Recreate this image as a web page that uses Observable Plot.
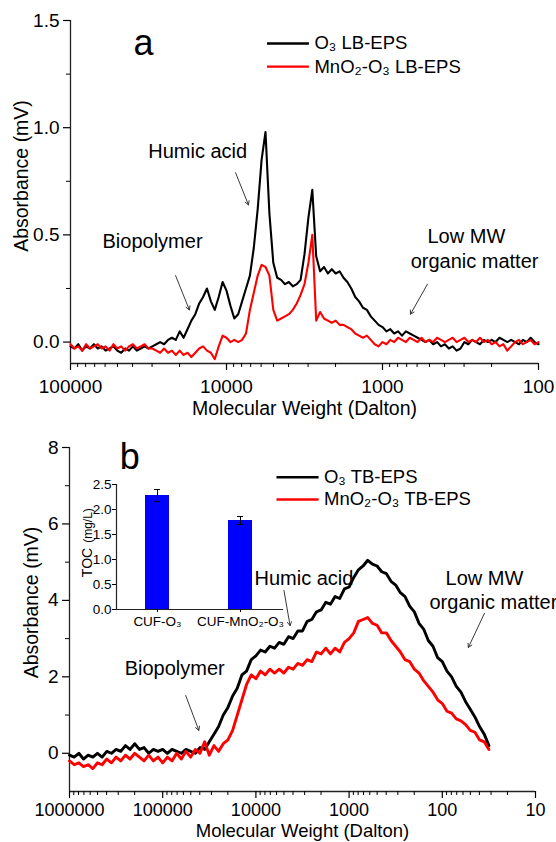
<!DOCTYPE html>
<html><head><meta charset="utf-8">
<script src="https://cdn.jsdelivr.net/npm/d3@7"></script>
<script src="https://cdn.jsdelivr.net/npm/@observablehq/plot@0.6"></script>
<style>
body{margin:0;background:#fff}
#wrap{position:relative;width:556px;height:842px;background:#fff;overflow:hidden}
#wrap svg{position:absolute;left:0}
</style></head><body><div id="wrap"></div>
<script>
// ---------- Panel a : LB-EPS ----------
const mwA = [100000, 94410, 89130, 84140, 79430, 74990, 70790, 66830, 63100, 59570,
  56230, 53090, 50120, 47320, 44670, 42170, 39810, 37580, 35480, 33500,
  31620, 29850, 28180, 26610, 25120, 23710, 22390, 21130, 19950, 18840,
  17780, 16790, 15850, 14960, 14130, 13340, 12590, 11890, 11220, 10590,
  10000, 9441, 8913, 8414, 7943, 7499, 7079, 6683, 6310, 5957,
  5623, 5309, 5012, 4732, 4467, 4217, 3981, 3758, 3548, 3350,
  3162, 2985, 2818, 2661, 2512, 2371, 2239, 2113, 1995, 1884,
  1778, 1679, 1585, 1496, 1413, 1334, 1259, 1189, 1122, 1059,
  1000, 944.1, 891.3, 841.4, 794.3, 749.9, 707.9, 668.3, 631.0, 595.7,
  562.3, 530.9, 501.2, 473.2, 446.7, 421.7, 398.1, 375.8, 354.8, 335.0,
  316.2, 298.5, 281.8, 266.1, 251.2, 237.1, 223.9, 211.3, 199.5, 188.4,
  177.8, 167.9, 158.5, 149.6, 141.3, 133.4, 125.9, 118.9, 112.2, 105.9, 100];
const lbO3 = [-0.02, -0.03, -0.01, -0.04, -0.02, -0.03, -0.01, -0.03, -0.02, -0.04,
  -0.03, -0.02, -0.04, -0.05, -0.03, -0.04, -0.02, -0.04, -0.03, -0.02,
  -0.03, -0.02, -0.01, 0.00, -0.01, 0.01, 0.02, 0.01, 0.05, 0.02,
  0.06, 0.10, 0.13, 0.18, 0.21, 0.25, 0.19, 0.15, 0.21, 0.28,
  0.24, 0.17, 0.11, 0.13, 0.19, 0.25, 0.31, 0.44, 0.62, 0.85,
  0.98, 0.60, 0.37, 0.30, 0.29, 0.27, 0.28, 0.26, 0.27, 0.29,
  0.41, 0.58, 0.71, 0.40, 0.33, 0.35, 0.32, 0.34, 0.32, 0.33,
  0.30, 0.28, 0.25, 0.21, 0.19, 0.16, 0.15, 0.12, 0.10, 0.08,
  0.07, 0.05, 0.06, 0.04, 0.05, 0.03, 0.05, 0.04, 0.03, 0.02,
  0.01, 0.00, 0.01, -0.01, 0.00, -0.02, -0.01, -0.03, -0.02, -0.04,
  -0.03, 0.00, -0.01, 0.01, 0.00, -0.01, 0.01, 0.00, 0.01, 0.00,
  0.02, 0.01, 0.00, 0.01, 0.00, -0.01, 0.01, 0.00, 0.02, 0.00, -0.01];
const lbMnO2 = [-0.01, -0.03, -0.02, -0.04, -0.01, -0.03, -0.02, -0.01, -0.03, -0.02,
  -0.04, -0.01, -0.03, -0.02, -0.04, -0.02, -0.01, -0.03, -0.02, -0.01,
  -0.03, -0.03, -0.04, -0.05, -0.03, -0.05, -0.04, -0.06, -0.04, -0.06,
  -0.05, -0.07, -0.05, -0.03, -0.02, -0.04, -0.05, -0.08, -0.02, 0.03,
  0.02, 0.00, 0.01, 0.00, 0.01, 0.04, 0.15, 0.23, 0.31, 0.36,
  0.35, 0.31, 0.15, 0.10, 0.11, 0.12, 0.13, 0.15, 0.18, 0.22,
  0.27, 0.37, 0.50, 0.10, 0.14, 0.11, 0.10, 0.09, 0.10, 0.08,
  0.08, 0.07, 0.06, 0.04, 0.03, 0.02, 0.03, 0.01, -0.01, -0.02,
  0.00, -0.01, 0.01, 0.00, 0.02, 0.01, 0.00, 0.02, 0.01, 0.00,
  0.02, 0.00, 0.01, 0.00, 0.02, 0.01, 0.00, 0.01, 0.02, 0.00,
  0.01, 0.02, 0.00, 0.01, 0.00, 0.02, 0.00, 0.01, -0.01, 0.00,
  -0.02, -0.01, -0.04, -0.02, 0.00, 0.01, -0.01, 0.00, 0.01, -0.01, 0.00];

// ---------- Panel b : TB-EPS ----------
const mwB = [1000000, 891300, 794300, 707900, 631000, 562300, 501200, 446700, 398100, 354800,
  316200, 281800, 251200, 223900, 199500, 177800, 158500, 141300, 125900, 112200,
  100000, 89130, 79430, 70790, 63100, 56230, 50120, 44670, 39810, 35480,
  31620, 28180, 25120, 22390, 19950, 17780, 15850, 14130, 12590, 11220,
  10000, 8913, 7943, 7079, 6310, 5623, 5012, 4467, 3981, 3548,
  3162, 2818, 2512, 2239, 1995, 1778, 1585, 1413, 1259, 1122,
  1000, 891.3, 794.3, 707.9, 631.0, 562.3, 501.2, 446.7, 398.1, 354.8,
  316.2, 281.8, 251.2, 223.9, 199.5, 177.8, 158.5, 141.3, 125.9, 112.2,
  100, 89.13, 79.43, 70.79, 63.10, 56.23, 50.12, 44.67, 39.81, 35.48, 31.62];
const tbO3 = [-0.05, -0.1, 0.0, -0.15, -0.05, -0.1, 0.0, -0.1, 0.05, 0.0,
  0.1, 0.05, 0.2, 0.1, 0.25, 0.1, 0.15, 0.0, 0.1, 0.05,
  0.1, 0.0, 0.1, 0.05, 0.0, 0.1, 0.05, 0.0, 0.15, 0.1,
  0.3, 0.5, 0.7, 1.0, 1.2, 1.5, 1.7, 2.05, 2.15, 2.45,
  2.55, 2.7, 2.65, 2.8, 2.75, 2.9, 2.85, 3.05, 3.0, 3.2,
  3.2, 3.45, 3.5, 3.7, 3.75, 3.95, 3.9, 4.1, 4.05, 4.3,
  4.35, 4.6, 4.8, 4.9, 5.05, 4.95, 4.9, 4.75, 4.7, 4.5,
  4.4, 4.2, 4.1, 3.85, 3.7, 3.4, 3.25, 2.95, 2.8, 2.5,
  2.4, 2.15, 2.0, 1.75, 1.6, 1.35, 1.15, 0.95, 0.7, 0.5, 0.2];
const tbMnO2 = [-0.2, -0.3, -0.25, -0.35, -0.3, -0.4, -0.25, -0.3, -0.15, -0.25,
  -0.1, -0.2, -0.05, -0.15, 0.0, -0.1, -0.2, -0.05, -0.2, -0.1,
  -0.25, -0.1, -0.2, 0.0, -0.15, 0.05, -0.1, 0.1, 0.0, 0.3,
  -0.05, 0.2, 0.05, 0.25, 0.35, 0.6, 1.0, 1.4, 1.8, 2.05,
  1.95, 2.15, 2.05, 2.2, 2.1, 2.2, 2.1, 2.25, 2.2, 2.35,
  2.3, 2.45, 2.4, 2.65, 2.6, 2.75, 2.6, 2.75, 2.65, 2.9,
  3.0, 3.15, 3.45, 3.5, 3.55, 3.4, 3.35, 3.15, 3.15, 2.95,
  2.8, 2.65, 2.45, 2.4, 2.2, 2.1, 1.9, 1.75, 1.6, 1.4,
  1.3, 1.1, 1.05, 0.9, 0.85, 0.75, 0.6, 0.55, 0.35, 0.3, 0.1];

// ---------- Inset : TOC ----------
const tocCats = ["CUF-O₃", "CUF-MnO₂-O₃"];
const tocValues = [2.28, 1.78];
const tocErrors = [0.12, 0.08];

// ---------- ticks & labels ----------
const xTicksA = [100000, 10000, 1000, 100];
const yTicksA = [0, 0.5, 1.0, 1.5];
const yMinorA = [0.25, 0.75, 1.25];
const xTicksB = [1000000, 100000, 10000, 1000, 100, 10];
const yTicksB = [0, 2, 4, 6, 8];
const yMinorB = [1, 3, 5, 7];
const tocTicks = [0, 0.5, 1.0, 1.5, 2.0, 2.5];
const legendA = ["O₃ LB-EPS", "MnO₂-O₃ LB-EPS"];
const legendB = ["O₃ TB-EPS", "MnO₂-O₃ TB-EPS"];
const seriesColors = ["#000000", "#ff0000"];
const xTitle = "Molecular Weight (Dalton)";
const yTitle = "Absorbance (mV)";

// annotations (data coordinates)
const notesA = [
  {mw: 15300, v: 0.89, t: "Humic acid"},
  {mw: 29800, v: 0.47, t: "Biopolymer"},
  {mw: 290, v: 0.49, t: "Low MW"},
  {mw: 257, v: 0.376, t: "organic matter"}];
const arrowsA = [
  {x1: 8750, y1: 0.79, x2: 7230, y2: 0.64},
  {x1: 21200, y1: 0.31, x2: 17300, y2: 0.15},
  {x1: 515, y1: 0.27, x2: 662, y2: 0.13}];
const notesB = [
  {mw: 3050, v: 4.57, t: "Humic acid"},
  {mw: 74300, v: 2.22, t: "Biopolymer"},
  {mw: 35.3, v: 4.57, t: "Low MW"},
  {mw: 28.3, v: 3.95, t: "organic matter"}];
const arrowsB = [
  {x1: 5000, y1: 4.26, x2: 4300, y2: 3.34},
  {x1: 56600, y1: 1.51, x2: 41000, y2: 0.60},
  {x1: 35.3, y1: 3.66, x2: 52.5, y2: 2.77}];

const FONT = "'Liberation Sans', Arial, Helvetica, sans-serif";
const minor = (lows) => lows.flatMap(L => [2,3,4,5,6,7,8,9].map(m => m * L));
const minorsA = minor([10000, 1000, 100]);
const minorsB = minor([100000, 10000, 1000, 100, 10]);

function panel({mw, s1, s2, xDom, yDom, xTicks, xMinor, yTicks, yMinor, yFmt, height, margins, legend, legPos, letter, notes, arrows, sw, yTitleDx, yTitleDy, xTitleDy, xTickFont, xTickPad, xTitleFont}) {
  const rows1 = mw.map((m, i) => ({mw: m, v: s1[i]}));
  const rows2 = mw.map((m, i) => ({mw: m, v: s2[i]}));
  const leg = legend.map((t, i) => ({t, c: seriesColors[i], v: legPos.v[i]}));
  return Plot.plot({
    width: 556, height,
    ...margins,
    style: {fontFamily: FONT, fontSize: "19px", background: "transparent", overflow: "visible", color: "#000"},
    x: {type: "log", domain: xDom},
    y: {domain: yDom},
    marks: [
      Plot.ruleY([yDom[0]], {stroke: "#222", strokeWidth: 1.3}),
      Plot.ruleX([xDom[0]], {stroke: "#222", strokeWidth: 1.3}),
      Plot.axisX({ticks: xTicks, tickSize: 7, tickPadding: xTickPad, tickFormat: d => String(d), label: null, fontSize: xTickFont, strokeWidth: 1.2}),
      Plot.axisX({ticks: xMinor, tickSize: 4, tickFormat: () => "", label: null, strokeWidth: 1}),
      Plot.axisY({ticks: yTicks, tickSize: 7, tickPadding: 4, tickFormat: yFmt, label: null, fontSize: 19, strokeWidth: 1.2}),
      Plot.axisY({ticks: yMinor, tickSize: 4, tickFormat: () => "", label: null, strokeWidth: 1}),
      Plot.line(rows1, {x: "mw", y: "v", stroke: seriesColors[0], strokeWidth: sw}),
      Plot.line(rows2, {x: "mw", y: "v", stroke: seriesColors[1], strokeWidth: sw}),
      Plot.ruleY(leg, {y: "v", x1: legPos.x1, x2: legPos.x2, stroke: "c", strokeWidth: 2.4}),
      Plot.text(leg, {y: "v", x: legPos.tx, text: "t", textAnchor: "start", fontSize: 18.5}),
      Plot.text([letter.t], {x: letter.mw, y: letter.v, fontSize: 36}),
      Plot.text(notes, {x: "mw", y: "v", text: "t", fontSize: 20}),
      Plot.arrow(arrows, {x1: "x1", y1: "y1", x2: "x2", y2: "y2", stroke: "#222", strokeWidth: 0.9, headLength: 7}),
      Plot.text([xTitle], {frameAnchor: "bottom", lineAnchor: "middle", textAnchor: "middle", dy: xTitleDy, fontSize: xTitleFont}),
      Plot.text([yTitle], {frameAnchor: "left", lineAnchor: "middle", textAnchor: "middle", dx: yTitleDx, dy: yTitleDy, rotate: -90, fontSize: 19.5})
    ]
  });
}

const plotA = panel({
  mw: mwA, s1: lbO3, s2: lbMnO2, xDom: [100000, 100], yDom: [-0.1, 1.5],
  xTicks: xTicksA, xMinor: minorsA, yTicks: yTicksA, yMinor: yMinorA, yFmt: d3.format(".1f"),
  height: 420, margins: {marginLeft: 70, marginRight: 18, marginTop: 20, marginBottom: 57},
  legend: legendA, legPos: {x1: 5460, x2: 2940, tx: 2730, v: [1.393, 1.285]},
  letter: {t: "a", mw: 34000, v: 1.395}, notes: notesA, arrows: arrowsA, sw: 2.1,
  yTitleDx: -49, yTitleDy: -16, xTitleDy: 45, xTickFont: 19, xTickPad: 9, xTitleFont: 19.5
});
const plotB = panel({
  mw: mwB, s1: tbO3, s2: tbMnO2, xDom: [1000000, 10], yDom: [-1, 8],
  xTicks: xTicksB, xMinor: minorsB, yTicks: yTicksB, yMinor: yMinorB, yFmt: d => String(d),
  height: 422, margins: {marginLeft: 69, marginRight: 21, marginTop: 27, marginBottom: 51},
  legend: legendB, legPos: {x1: 5940, x2: 2100, tx: 1860, v: [7.22, 6.64]},
  letter: {t: "b", mw: 226000, v: 7.75}, notes: notesB, arrows: arrowsB, sw: 2.9,
  yTitleDx: -38, yTitleDy: -17, xTitleDy: 40, xTickFont: 18, xTickPad: 5, xTitleFont: 18.5
});

const tocData = tocCats.map((c, i) => ({c, v: tocValues[i], e: tocErrors[i]}));
const inset = Plot.plot({
  width: 300, height: 200,
  marginLeft: 116, marginRight: 18, marginTop: 44, marginBottom: 31,
  style: {fontFamily: FONT, fontSize: "13px", background: "transparent", overflow: "visible", color: "#000"},
  x: {type: "band", domain: tocCats, paddingInner: 0.71, paddingOuter: 0.355},
  y: {domain: [0, 2.5]},
  marks: [
    Plot.barY(tocData, {x: "c", y: "v", fill: "#0000ff"}),
    Plot.ruleX(tocData, {x: "c", y1: d => d.v - d.e, y2: d => d.v + d.e, stroke: "#000", strokeWidth: 1}),
    Plot.tickY(tocData, {x: "c", y: d => d.v + d.e, insetLeft: 9, insetRight: 9, stroke: "#000", strokeWidth: 1}),
    Plot.tickY(tocData, {x: "c", y: d => d.v - d.e, insetLeft: 9, insetRight: 9, stroke: "#000", strokeWidth: 1}),
    Plot.frame({anchor: "left", stroke: "#222", strokeWidth: 1.2}),
    Plot.frame({anchor: "bottom", stroke: "#222", strokeWidth: 1.2}),
    Plot.axisY({ticks: tocTicks, tickSize: 4, tickPadding: 1, tickFormat: d3.format(".1f"), label: null, fontSize: 13.5}),
    Plot.axisX({tickSize: 3, tickPadding: 4, label: null, fontSize: 13.5}),
    Plot.text(["TOC"], {frameAnchor: "left", lineAnchor: "middle", textAnchor: "middle", dx: -29, dy: 15.5, rotate: -90, fontSize: 14}),
    Plot.text(["(mg/L)"], {frameAnchor: "left", lineAnchor: "middle", textAnchor: "middle", dx: -28, dy: -21.5, rotate: -90, fontSize: 12})
  ]
});

const wrap = document.getElementById("wrap");
plotA.style.top = "0px";
plotB.style.top = "420px";
inset.style.top = "440px";
wrap.append(plotA, plotB, inset);
</script>
</body></html>
